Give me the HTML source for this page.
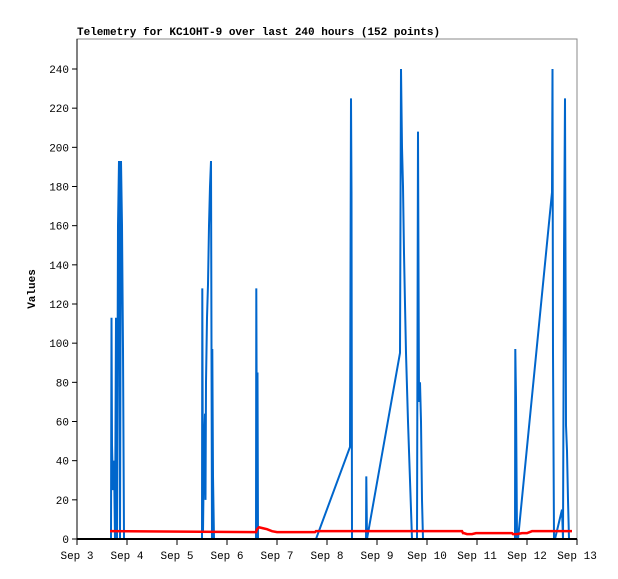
<!DOCTYPE html>
<html><head><meta charset="utf-8"><style>
body{margin:0;background:#fff;}
svg{display:block;font-family:"Liberation Mono",monospace;}
</style></head><body>
<svg id="chart" width="618" height="579" viewBox="0 0 618 579" xmlns="http://www.w3.org/2000/svg">
<rect x="0" y="0" width="618" height="579" fill="#fff"/>
<text x="77" y="35" font-size="11" font-weight="bold">Telemetry for KC1OHT-9 over last 240 hours (152 points)</text>
<text transform="translate(35,289) rotate(-90)" text-anchor="middle" font-size="11" font-weight="bold">Values</text>
<rect x="77" y="39" width="500" height="500" fill="none" stroke="#888" stroke-width="1"/>
<g id="series"></g>
<line x1="77" y1="39" x2="77" y2="539" stroke="#000" stroke-width="1"/>
<line x1="77" y1="539" x2="577" y2="539" stroke="#000" stroke-width="2"/>
<g id="axes"></g>
</svg>
<script>
// x in days since Sep 3 00:00
const xTickLabels = ["Sep 3","Sep 4","Sep 5","Sep 6","Sep 7","Sep 8","Sep 9","Sep 10","Sep 11","Sep 12","Sep 13"];
const yTicks = [0,20,40,60,80,100,120,140,160,180,200,220,240];
const blueX = [0.68,0.69,0.70,0.72,0.74,0.76,0.78,0.80,0.82,0.84,0.86,0.88,0.90,0.92,0.94,
 2.50,2.506,2.52,2.54,2.56,2.57,2.58,2.60,2.62,2.64,2.66,2.68,2.70,2.706,2.72,2.74,
 3.58,3.586,3.60,3.61,3.62,
 4.78,5.46,5.48,5.49,5.50,5.78,5.786,5.80,6.46,6.48,6.50,6.52,6.54,6.56,6.58,6.62,6.66,6.70,6.80,6.806,6.82,6.84,6.86,6.88,6.90,6.92,
 8.76,8.766,8.78,8.80,8.82,9.50,9.51,9.52,9.54,9.56,9.70,9.72,9.74,9.76,9.78,9.80,9.82,9.84];
const blueY = [0,113,48,25,40,0,113,0,160,193,0,193,160,97,0,
 0,128,4,45,64,20,80,113,130,160,180,193,0,97,32,0,
 0,128,20,85,0,
 0,47,225,177,0,0,32,0,95,240,200,180,146,120,95,60,30,0,0,62,208,70,80,60,20,0,
 0,97,72,0,0,177,240,95,0,0,15,0,145,225,58,45,20,0];
const redX = [0.66,3.58,3.60,3.64,3.72,3.80,3.90,4.00,4.76,4.78,7.70,7.72,7.74,7.80,7.90,7.98,8.70,8.72,8.80,8.90,9.00,9.10,9.90];
const redY = [4,3.5,5,6,5.5,5,4,3.5,3.5,4,4,3,3,2.5,2.5,3,3,2.5,2.5,3,3,4,4];
const X = d => 77 + 50*d;
const Y = v => 539 - v*(470/240);
const NS="http://www.w3.org/2000/svg";
const axes=document.getElementById('axes'), series=document.getElementById('series');
yTicks.forEach(v=>{
  const l=document.createElementNS(NS,'line');
  
  
  l.setAttribute('x1',72);l.setAttribute('x2',77);l.setAttribute('y1',Y(v));l.setAttribute('y2',Y(v));l.setAttribute('stroke','#000');
  axes.appendChild(l);
  const t=document.createElementNS(NS,'text');
  
  
  t.setAttribute('x',69);t.setAttribute('y',Y(v)+4);t.setAttribute('text-anchor','end');t.setAttribute('font-size','11');
  t.textContent=v;axes.appendChild(t);
});
xTickLabels.forEach((s,i)=>{
  const l=document.createElementNS(NS,'line');
  
  
  l.setAttribute('x1',X(i));l.setAttribute('x2',X(i));l.setAttribute('y1',539);l.setAttribute('y2',545);l.setAttribute('stroke','#000');
  axes.appendChild(l);
  const t=document.createElementNS(NS,'text');
  
  
  t.setAttribute('x',X(i));t.setAttribute('y',559);t.setAttribute('text-anchor','middle');t.setAttribute('font-size','11');
  t.textContent=s;axes.appendChild(t);
});
function poly(xs,ys,color,w,name){
  const p=document.createElementNS(NS,'polyline');
  
  
  p.setAttribute('points',xs.map((x,i)=>X(x)+','+Y(ys[i])).join(' '));
  p.setAttribute('fill','none');p.setAttribute('stroke',color);p.setAttribute('stroke-width',w);p.setAttribute('stroke-linejoin','miter');
  series.appendChild(p);
}
poly(blueX,blueY,'#0066cc',2,'series-blue');
poly(redX,redY,'#ff0000',2.5,'series-red');
</script>
</body></html>
